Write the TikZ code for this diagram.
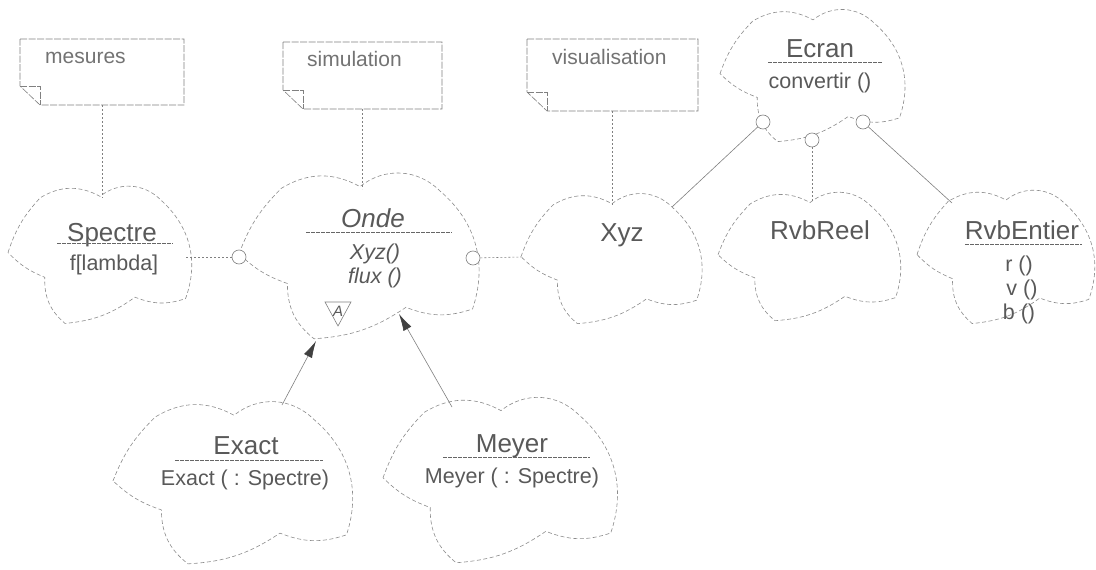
\documentclass[tikz,border=0pt]{standalone}
\usepackage{fontspec}
\setmainfont{Liberation Sans}
\usetikzlibrary{arrows.meta,calc}
\tikzset{
  cloudline/.style={draw=black!45, line width=0.6pt, dash pattern=on 4pt off 2.5pt},
  noteline/.style={draw=black!50, line width=0.6pt, dash pattern=on 7pt off 1.5pt},
  link/.style={draw=black!50, line width=0.6pt, dash pattern=on 2pt off 2pt},
  uses/.style={draw=black!50, line width=0.6pt},
  inh/.style={draw=black!50, line width=0.6pt, -{Latex[length=17pt,width=9pt,color=black!75]}},
  sepline/.style={draw=black!60, line width=0.8pt, dash pattern=on 4pt off 1pt},
  usecirc/.style={circle, draw=black!50, line width=0.6pt, fill=white, minimum size=14pt, inner sep=0pt},
  notefr/.style={rectangle, inner sep=0pt, outer sep=0pt},
  cname/.style={text=black!65, font=\fontsize{26}{30}\selectfont, inner sep=0pt, anchor=base},
  cmeth/.style={text=black!65, font=\fontsize{21.5}{24}\selectfont, inner sep=0pt, anchor=base},
  notetxt/.style={text=black!55, font=\fontsize{21}{24}\selectfont, inner sep=0pt, anchor=base west},
}
\newcommand\bcloud[4]{%
\begin{scope}[shift={(#1,#2)},x=#3pt,y=-#4pt]
\draw[cloudline] (-1,-0.05) to[bend left=12] (-0.65,-0.82) to[bend left=30] (0,-0.84)
  to[bend left=42] (0.66,-0.79) to[bend left=34] (0.93,0.6) to[bend left=20] (0.38,0.58)
  to[bend left=15] (-0.38,0.95) to[bend left=26] (-0.6,0.3) to[bend left=12] (-1,-0.05) -- cycle;
\end{scope}}
\begin{document}
\begin{tikzpicture}[x=1pt,y=-1pt]
\useasboundingbox[fill=white] (0,0) rectangle (1096,570);
% clouds
\bcloud{100}{256}{92}{71}
\bcloud{360}{258}{121}{85}
\bcloud{612}{260}{91}{67}
\bcloud{810}{258}{92}{66}
\bcloud{1006}{258}{89}{69}
\bcloud{813}{77}{93}{68}
\bcloud{234}{485}{121}{83}
\bcloud{501}{482}{118}{85}
% notes
\node[notefr, minimum width=164pt, minimum height=66pt, anchor=north west] (nMes) at (20,39) {};
\node[notefr, minimum width=159pt, minimum height=67pt, anchor=north west] (nSim) at (283,42) {};
\node[notefr, minimum width=171pt, minimum height=72pt, anchor=north west] (nVis) at (527,39) {};
\foreach \n in {nMes,nSim,nVis}{
  \draw[noteline] (\n.north west) -- (\n.north east) -- (\n.south east) -- ([xshift=20pt]\n.south west) -- ([yshift=19pt]\n.south west) -- cycle;
  \draw[noteline] ([yshift=19pt]\n.south west) -- ([xshift=20pt,yshift=19pt]\n.south west) -- ([xshift=20pt]\n.south west);
}
\node[notetxt] (tMes) at ($(nMes.north west)+(25,24)$) {mesures};
\node[notetxt] (tSim) at ($(nSim.north west)+(24,24)$) {simulation};
\node[notetxt] (tVis) at ($(nVis.north west)+(25,25)$) {visualisation};
% attachment coordinates
\coordinate (cSpT) at (102,198);
\coordinate (cOnT) at (362.5,189);
\coordinate (cXyT) at (612.5,205);
\coordinate (cSpR) at (186,257);
\coordinate (cXyL) at (521,257);
\coordinate (cXyE) at (672,207);
\coordinate (cRrT) at (812,201);
\coordinate (cReT) at (952,203);
\coordinate (cExT) at (282,405);
\coordinate (cOnB1) at (316,341);
\coordinate (cMeT) at (452,407);
\coordinate (cOnB2) at (399,314);
% circles
\node[usecirc] (oL) at (239,257) {};
\node[usecirc] (oR) at (473,258) {};
\node[usecirc] (e1) at (763,122) {};
\node[usecirc] (e2) at (812,140) {};
\node[usecirc] (e3) at (863,122) {};
% connectors
\draw[link] (nMes) -- (cSpT);
\draw[link] (nSim) -- (cOnT);
\draw[link] (nVis) -- (cXyT);
\draw[link] (cSpR) -- (oL);
\draw[link] (oR) -- (cXyL);
\draw[uses] (e1) -- (cXyE);
\draw[link] (e2) -- (cRrT);
\draw[uses] (e3) -- (cReT);
\draw[inh] (cExT) -- (cOnB1);
\draw[inh] (cMeT) -- (cOnB2);
% abstract adornment
\draw[draw=black!50, line width=0.6pt] (325,302) -- (351,302) -- (338,326) -- cycle;
\node[text=black!65, font=\fontsize{15}{16}\selectfont\itshape, inner sep=0pt] (tA) at (338,311) {A};
% class texts
\node[cname] (tSpectre) at (112,241) {Spectre};
\draw[sepline] (57,243) -- (173,243);
\node[cmeth] (mSp) at (114,270) {f[lambda]};
\node[cname, font=\fontsize{26}{30}\selectfont\itshape] (tOnde) at (373,227) {Onde};
\draw[sepline] (306,232) -- (452,232);
\node[cmeth, font=\fontsize{21.5}{24}\selectfont\itshape] (mOn1) at (375,259) {Xyz()};
\node[cmeth, font=\fontsize{21.5}{24}\selectfont\itshape] (mOn2) at (375,283) {flux ()};
\node[cname] (tXyz) at (622,241) {Xyz};
\node[cname] (tRvbReel) at (820,239) {RvbReel};
\node[cname] (tRvbEntier) at (1022,239) {RvbEntier};
\draw[sepline] (965,244) -- (1082,244);
\node[cmeth] (mRe1) at (1019,271) {r ()};
\node[cmeth] (mRe2) at (1022,295) {v ()};
\node[cmeth] (mRe3) at (1019,319) {b ()};
\node[cname] (tEcran) at (820,57) {Ecran};
\draw[sepline] (768,62) -- (882,62);
\node[cmeth] (mEc) at (820,88) {convertir ()};
\node[cname] (tExact) at (246,454) {Exact};
\draw[sepline] (175,460) -- (323,460);
\node[cmeth] (mEx) at (245,485) {Exact ( : Spectre)};
\node[cname] (tMeyer) at (512,452) {Meyer};
\draw[sepline] (443,457) -- (590,457);
\node[cmeth] (mMe) at (512,483) {Meyer ( : Spectre)};
\end{tikzpicture}
\end{document}
